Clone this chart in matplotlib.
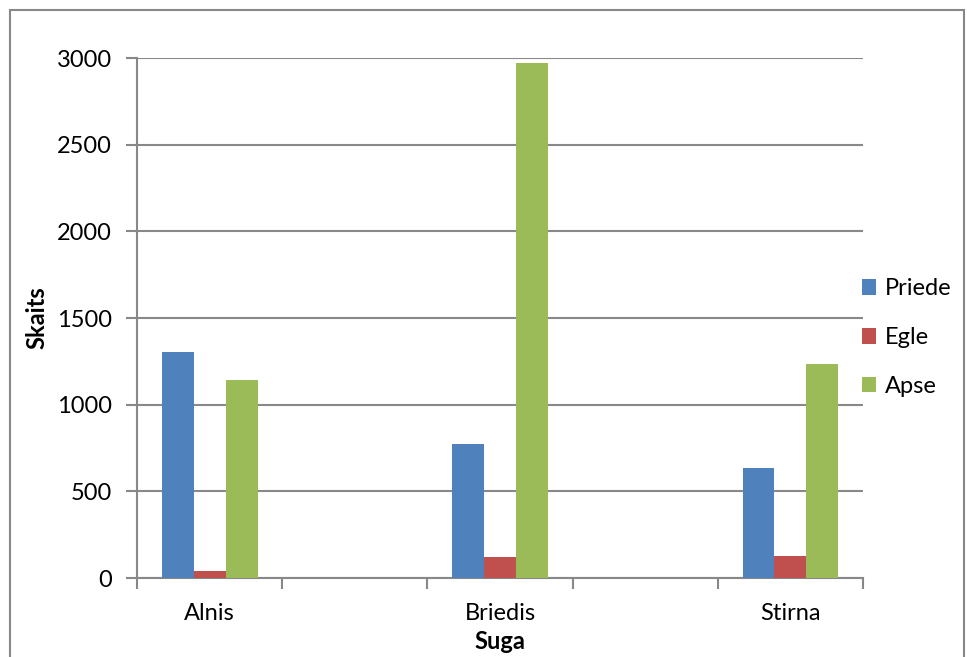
import numpy as np
import matplotlib.pyplot as plt
from matplotlib.patches import Rectangle

plt.rcParams['font.family'] = ['Lato', 'DejaVu Sans']

# Species per category slot; empty slots keep the spacing between groups
categories = ["Alnis", "", "Briedis", "", "Stirna"]
priede = [1306, np.nan, 773, np.nan, 632]
egle = [39, np.nan, 121, np.nan, 125]
apse = [1143, np.nan, 2973, np.nan, 1237]

series = [("Priede", priede, "#4F81BD"),
          ("Egle", egle, "#C0504D"),
          ("Apse", apse, "#9BBB59")]

fs = 17
fig = plt.figure(figsize=(9.67, 6.57), dpi=100)
ax = fig.add_axes([0.1417, 0.1202, 0.7508, 0.7915])

x = np.arange(len(categories))
w = 0.22
for i, (name, vals, col) in enumerate(series):
    ax.bar(x + (i - 1) * w, vals, w, color=col, label=name, zorder=3)

grid_col = "#888888"
ax.set_xlim(-0.5, len(categories) - 0.5)
ax.set_ylim(0, 3000)
ax.set_yticks(np.arange(0, 3001, 500))
ax.yaxis.grid(True, color=grid_col, linewidth=1.5, zorder=0)

ax.set_xticks(x)
ax.set_xticklabels(categories)
ax.set_xticks(np.arange(-0.5, len(categories)), minor=True)
ax.tick_params(axis='x', which='major', length=0, pad=18, labelsize=fs)
ax.tick_params(axis='x', which='minor', length=8, width=1.5, color=grid_col)
ax.tick_params(axis='y', length=8, width=1.5, color=grid_col, pad=10,
               labelsize=fs)

for side in ['top', 'right']:
    ax.spines[side].set_visible(False)
for side in ['left', 'bottom']:
    ax.spines[side].set_color(grid_col)
    ax.spines[side].set_linewidth(1.5)

ax.set_ylabel("Skaits", fontsize=fs, fontweight='bold', labelpad=6)
ax.set_xlabel("Suga", fontsize=fs, fontweight='bold', labelpad=4)

ax.legend(loc='center left', bbox_to_anchor=(0.891, 0.486), bbox_transform=fig.transFigure,
          frameon=False, fontsize=fs, handlelength=0.62, handleheight=0.62,
          handletextpad=0.35, labelspacing=1.18, borderaxespad=0, borderpad=0)

# outer chart border
fig.patches.append(Rectangle((10 / 967, -0.02), 954 / 967, 1 - 10 / 657 + 0.02,
                             transform=fig.transFigure, fill=False,
                             edgecolor=grid_col, linewidth=1.5))

fig.savefig("out.png", dpi=100)
